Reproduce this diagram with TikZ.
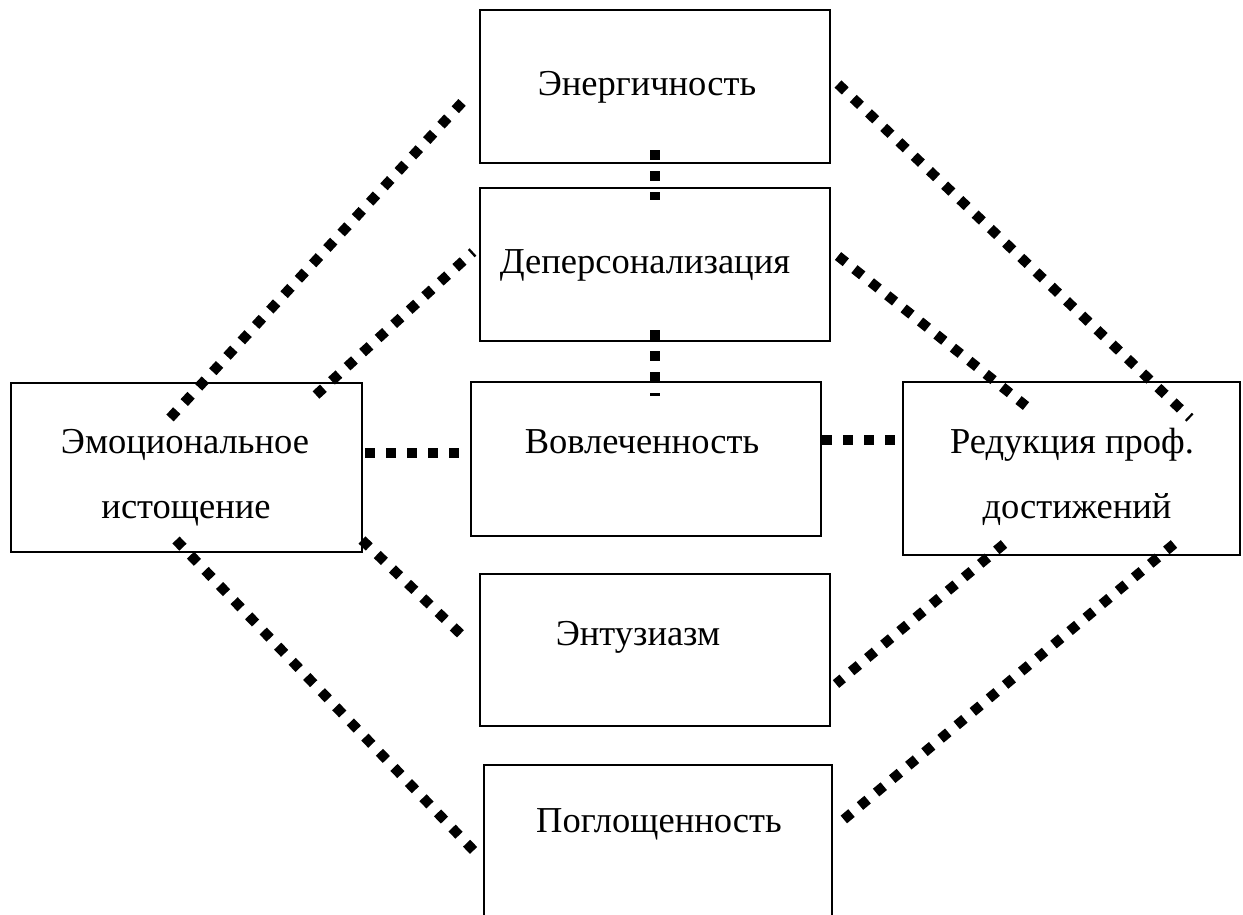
\documentclass[tikz,border=0pt]{standalone}
\usepackage{fontspec}
\setmainfont{Liberation Serif}
\begin{document}
\begin{tikzpicture}[x=1pt,y=-1pt,
  box/.style={draw,line width=2.8pt,fill=white},
  lbl/.style={font=\fontsize{36.5}{44}\selectfont,inner sep=0pt,anchor=base},
  dotline/.style={line width=10pt,dash pattern=on 10pt off 11pt}]
\useasboundingbox (0,0) rectangle (1243,914);
% boxes
\draw[box] (480,10) rectangle (830,163);
\draw[box] (480,188) rectangle (830,341);
\draw[box] (471,382) rectangle (821,536);
\draw[box] (11,383) rectangle (362,552);
\draw[box] (903,382) rectangle (1240,555);
\draw[box] (480,574) rectangle (830,726);
\draw[line width=2.8pt] (484,920) -- (484,765) -- (832,765) -- (832,920);
% labels
\node[lbl] (tEn) at (647,95) {Энергичность};
\node[lbl] (tDe) at (645,273) {Деперсонализация};
\node[lbl] (tVo) at (642,453) {Вовлеченность};
\node[lbl] (tEm1) at (185,453) {Эмоциональное};
\node[lbl] (tEm2) at (186,518) {истощение};
\node[lbl] (tRe1) at (1072,453) {Редукция проф.};
\node[lbl] (tRe2) at (1077,518) {достижений};
\node[lbl] (tEt) at (638,645) {Энтузиазм};
\node[lbl] (tPo) at (659,832) {Поглощенность};
% endpoints
\coordinate (a1) at (170,418); \coordinate (b1) at (468,96);
\coordinate (a2) at (316,395); \coordinate (b2) at (473,252);
\coordinate (a3) at (365,453); \coordinate (b3) at (462,453);
\coordinate (a4) at (362,540); \coordinate (b4) at (468,641);
\coordinate (a5) at (176,540); \coordinate (b5) at (476,853);
\coordinate (a6) at (838,84); \coordinate (b6) at (1190,418);
\coordinate (a7) at (838,256); \coordinate (b7) at (1026,406);
\coordinate (a8) at (822,440); \coordinate (b8) at (900,440);
\coordinate (a9) at (1004,544); \coordinate (b9) at (836,684);
\coordinate (a10) at (1174,544); \coordinate (b10) at (836,826);
\coordinate (a11) at (655,150); \coordinate (b11) at (655,200);
\coordinate (a12) at (655,330); \coordinate (b12) at (655,396);
\foreach \i in {1,...,12} \draw[dotline] (a\i) -- (b\i);
\end{tikzpicture}
\end{document}
